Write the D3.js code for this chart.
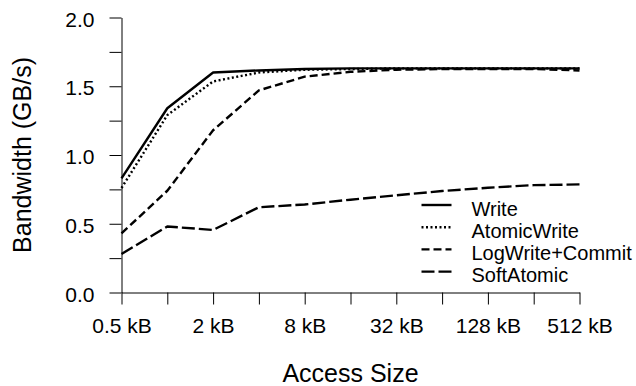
<!DOCTYPE html>
<html>
<head>
<meta charset="utf-8">
<script src="https://cdn.jsdelivr.net/npm/d3@7"></script>
<style>
  html, body { margin: 0; padding: 0; background: #fff; }
  svg text { font-family: "Liberation Sans", Arial, Helvetica, sans-serif; fill: #000; }
</style>
</head>
<body>
<div id="chart"></div>
<script>
// Access sizes in kB (log2 axis)
var sizes = [0.5, 1, 2, 4, 8, 16, 32, 64, 128, 256, 512];
var labelledSizes = [0.5, 2, 8, 32, 128, 512];
var yTicks = [0, 0.25, 0.5, 0.75, 1, 1.25, 1.5, 1.75, 2];
var yLabelled = [0, 0.5, 1, 1.5, 2];

// Bandwidth in GB/s
var writeBw       = [0.83, 1.34, 1.60, 1.615, 1.625, 1.63, 1.63, 1.63, 1.63, 1.63, 1.63];
var atomicWriteBw = [0.76, 1.29, 1.535, 1.60, 1.62, 1.625, 1.63, 1.63, 1.63, 1.63, 1.63];
var logCommitBw   = [0.43, 0.74, 1.18, 1.47, 1.57, 1.605, 1.62, 1.625, 1.625, 1.625, 1.615];
var softAtomicBw  = [0.28, 0.48, 0.455, 0.62, 0.64, 0.675, 0.707, 0.738, 0.762, 0.781, 0.786];

var seriesNames = ['Write', 'AtomicWrite', 'LogWrite+Commit', 'SoftAtomic'];
var seriesValues = [writeBw, atomicWriteBw, logCommitBw, softAtomicBw];
var seriesDash = [null, '2,2.5', '8,4', '13,4'];

var width = 636, height = 386;

var svg = d3.select('#chart').append('svg')
    .attr('width', width)
    .attr('height', height);

var x = d3.scaleLog().base(2).domain([0.5, 512]).range([121.5, 579.5]);
var y = d3.scaleLinear().domain([0, 2]).range([292.5, 17.5]);

// y axis
var yAxis = svg.append('g')
    .attr('transform', 'translate(121.5,0)')
    .call(d3.axisLeft(y)
        .tickValues(yTicks)
        .tickSize(12)
        .tickSizeOuter(0)
        .tickPadding(15)
        .tickFormat(function(d) { return yLabelled.indexOf(d) >= 0 ? d3.format('.1f')(d) : ''; }));
yAxis.selectAll('text')
    .attr('dy', null)
    .attr('y', 8.5)
    .style('font-size', '21px');

// x axis
var xAxis = svg.append('g')
    .attr('transform', 'translate(0,292.5)')
    .call(d3.axisBottom(x)
        .tickValues(sizes)
        .tickSize(12)
        .tickSizeOuter(0)
        .tickFormat(function(d) { return labelledSizes.indexOf(d) >= 0 ? d + ' kB' : ''; }));
xAxis.selectAll('text')
    .attr('dy', null)
    .attr('y', 40.5)
    .style('font-size', '21px');

svg.selectAll('.domain, .tick line').attr('stroke', '#000').attr('stroke-width', 1);

// axis titles
svg.append('text')
    .attr('x', (x.range()[0] + x.range()[1]) / 2)
    .attr('y', 382)
    .attr('text-anchor', 'middle')
    .style('font-size', '25px')
    .text('Access Size');

svg.append('text')
    .attr('transform', 'translate(31,' + ((y.range()[0] + y.range()[1]) / 2) + ') rotate(-90)')
    .attr('text-anchor', 'middle')
    .style('font-size', '25px')
    .text('Bandwidth (GB/s)');

// series lines
var line = d3.line()
    .x(function(d, i) { return x(sizes[i]); })
    .y(function(d) { return y(d); });

seriesValues.forEach(function(vals, i) {
    svg.append('path')
        .datum(vals)
        .attr('d', line)
        .attr('fill', 'none')
        .attr('stroke', '#000')
        .attr('stroke-width', 2.4)
        .attr('stroke-linejoin', 'round')
        .attr('stroke-dasharray', seriesDash[i]);
});

// legend
var legend = svg.append('g');
seriesNames.forEach(function(name, i) {
    var ly = 205 + i * 22.2;
    legend.append('line')
        .attr('x1', 421.5).attr('x2', 451.5)
        .attr('y1', ly).attr('y2', ly)
        .attr('stroke', '#000')
        .attr('stroke-width', 2.4)
        .attr('stroke-dasharray', seriesDash[i]);
    legend.append('text')
        .attr('x', 471.5)
        .attr('y', ly + 10.5)
        .style('font-size', '20px')
        .text(name);
});
</script>
</body>
</html>
